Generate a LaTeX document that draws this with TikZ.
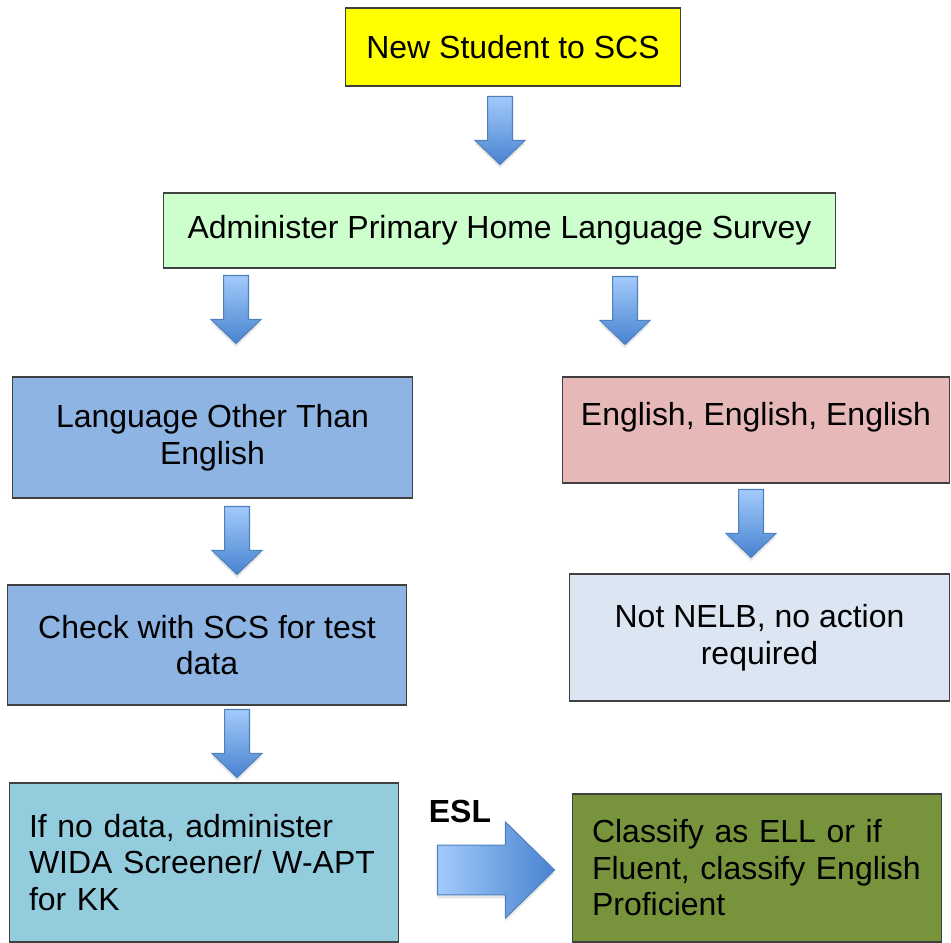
\documentclass[tikz,border=0pt]{standalone}
\usepackage{fontspec}
\setmainfont{Liberation Sans}
\usetikzlibrary{calc,shadows}
\definecolor{cnew}{HTML}{FFFF00}
\definecolor{csurvey}{HTML}{CCFFCC}
\definecolor{cother}{HTML}{8EB4E3}
\definecolor{ceng}{HTML}{E6B9B8}
\definecolor{cnelb}{HTML}{DCE6F2}
\definecolor{cwida}{HTML}{93CDDD}
\definecolor{cclass}{HTML}{77933C}
\definecolor{arrtop}{HTML}{A3CAFB}
\definecolor{arrbot}{HTML}{4883D0}
\definecolor{arrline}{HTML}{4F81BD}

\begin{document}
\begin{tikzpicture}[x=0.02cm,y=-0.02cm,
    box/.style={draw=black!75,line width=0.6pt,inner sep=0pt,align=center,font=\fontsize{18.2}{20.8}\selectfont},
    lbox/.style={box,align=left,inner xsep=0.4cm},
    downarr/.style={draw=arrline,line width=0.6pt,top color=arrtop,bottom color=arrbot,
        drop shadow={opacity=0.2,shadow xshift=0pt,shadow yshift=-2pt},
        to path={let \p1=(\tikztostart),\p2=(\tikztotarget) in
            (\x1-7.1pt,\y1)--(\x1+7.1pt,\y1)--(\x1+7.1pt,\y2+13.7pt)--(\x1+14.2pt,\y2+13.7pt)
            --(\x1,\y2)--(\x1-14.2pt,\y2+13.7pt)--(\x1-7.1pt,\y2+13.7pt)--cycle}},
    rightarr/.style={draw=arrline,line width=0.6pt,left color=arrtop,right color=arrbot,
        drop shadow={opacity=0.2,shadow xshift=0pt,shadow yshift=-2pt},
        to path={let \p1=(\tikztostart),\p2=(\tikztotarget) in
            (\x1,\y1-14.2pt)--(\x2-27.9pt,\y1-14.2pt)--(\x2-27.9pt,\y1-27.3pt)--(\x2,\y1)
            --(\x2-27.9pt,\y1+27.3pt)--(\x2-27.9pt,\y1+14.2pt)--(\x1,\y1+14.2pt)--cycle}}]
        \useasboundingbox(0,0)rectangle(951,943);

        \node[box,fill=cnew,minimum width=6.72cm,minimum height=1.56cm](new)at(513,47){New Student to SCS};
        \node[box,fill=csurvey,minimum width=13.46cm,minimum height=1.5cm](survey)at(499.5,230.5){Administer Primary Home Language Survey};
        \node[box,fill=cother,minimum width=8.02cm,minimum height=2.42cm](other)at(212.5,437.5){Language Other Than\\English};
        \node[box,fill=ceng,minimum width=7.76cm,minimum height=2.12cm,text depth=0.65cm](eng)at(756,430){English, English, English};
        \node[box,fill=cother,minimum width=8cm,minimum height=2.4cm](check)at(207,645){Check with SCS for test\\data};
        \node[box,fill=cnelb,minimum width=7.62cm,minimum height=2.54cm](nelb)at(759.5,637.5){Not NELB, no action\\required};
        \node[lbox,fill=cwida,text width=7cm,minimum height=3.18cm](wida)at(204,862.5){If no data, administer\\WIDA Screener/ W-APT\\for KK};
        \node[lbox,fill=cclass,text width=6.6cm,minimum height=2.96cm](class)at(757,868){Classify as ELL or if\\Fluent, classify English\\Proficient};
        \node[font=\fontsize{18.2}{20.8}\selectfont\bfseries](esl)at(460,811){ESL};

        \draw[downarr]($(new.south)+(-13,10)$)to($(survey.north)+(-13,-28)$);
        \draw[downarr]($(survey.south)+(-263.5,7)$)to($(other.north)+(23.5,-33)$);
        \draw[downarr]($(survey.south)+(125.5,8)$)to($(eng.north)+(-131,-32)$);
        \draw[downarr]($(other.south)+(24.5,8)$)to($(check.north)+(30,-10)$);
        \draw[downarr]($(eng.south)+(-5,6)$)to($(nelb.north)+(-8.5,-16)$);
        \draw[downarr]($(check.south)+(30,4)$)to($(wida.north)+(33,-5)$);
        \draw[rightarr]($(wida.east)+(38,7.5)$)to($(class.west)+(-17,2)$);
    \end{tikzpicture}
\end{document}
